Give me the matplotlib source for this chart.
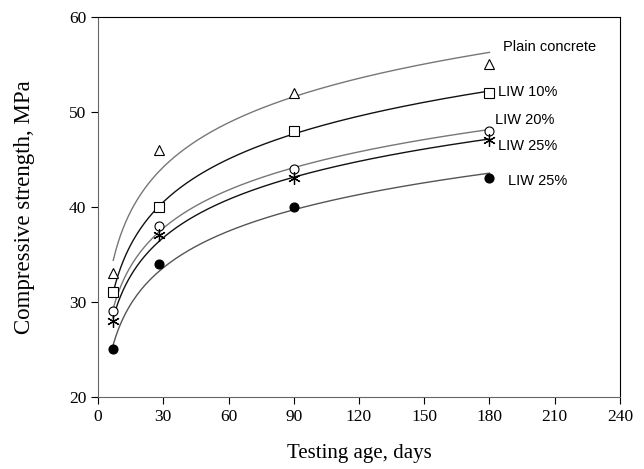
import numpy as np
import matplotlib
matplotlib.use("Agg")
import matplotlib.pyplot as plt

days = [7, 28, 90, 180]
plain = [33, 46, 52, 55]
liw10 = [31, 40, 48, 52]
liw20 = [29, 38, 44, 48]
liw25a = [28, 37, 43, 47]
liw25b = [25, 34, 40, 43]

labels = ["Plain concrete", "LIW 10%", "LIW 20%", "LIW 25%", "LIW 25%"]
label_pos = [(186, 56.8), (184, 52.1), (182.6, 49.2), (184, 46.4), (188.3, 42.7)]

fig = plt.figure(figsize=(6.44, 4.69), dpi=100)
ax = fig.add_axes([98/644, 1-397/469, (620-98)/644, (397-17)/469])

series = [
    (plain, dict(marker='^', mfc='white', mec='black', ms=7), '#777777'),
    (liw10, dict(marker='s', mfc='white', mec='black', ms=6.5), '#111111'),
    (liw20, dict(marker='o', mfc='white', mec='black', ms=6.5), '#777777'),
    (liw25a, dict(marker=(6, 2, 0), mfc='none', mec='black', ms=9, mew=0.9), '#111111'),
    (liw25b, dict(marker='o', mfc='black', mec='black', ms=6.5), '#555555'),
]

x = np.array(days, dtype=float)
xs = np.linspace(7, 180, 300)
for vals, mk, lc in series:
    a, b = np.polyfit(np.log(x), np.array(vals, dtype=float), 1)
    ax.plot(xs, a*np.log(xs) + b, color=lc, lw=1.0, zorder=2)
    ax.plot(days, vals, ls='none', zorder=3, mew=mk.pop('mew', 0.8), **mk)

for lab, (lx, ly) in zip(labels, label_pos):
    ax.text(lx, ly, lab, fontsize=10.5, family='Liberation Sans', va='center', ha='left')

ax.set_xlim(0, 240)
ax.set_ylim(20, 60)
ax.set_xticks(range(0, 241, 30))
ax.set_yticks(range(20, 61, 10))
ax.tick_params(direction='out', length=5, labelsize=12.5, colors='black')
for lab in ax.get_xticklabels() + ax.get_yticklabels():
    lab.set_family('Liberation Serif')
for s in ['left', 'bottom']:
    ax.spines[s].set_color('#666666')
for s in ['top', 'right']:
    ax.spines[s].set_color('black')
ax.set_xlabel("Testing age, days", family='Liberation Serif', fontsize=15)
ax.set_ylabel("Compressive strength, MPa", family='Liberation Serif', fontsize=16.5)
ax.xaxis.set_label_coords((359-98)/522, -(453-397)/380)
ax.yaxis.set_label_coords(-(98-25)/522, 0.5)
ax.xaxis.label.set_va('center')
ax.yaxis.label.set_va('center')

fig.savefig("out.png", dpi=100)
